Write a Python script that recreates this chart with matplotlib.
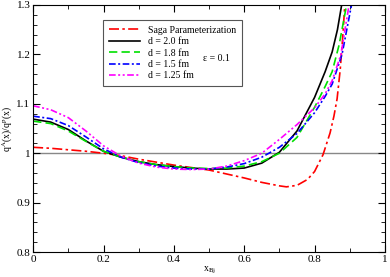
import numpy as np
import matplotlib
matplotlib.use('Agg')
import matplotlib.pyplot as plt
from matplotlib.ticker import MultipleLocator

plt.rcParams['font.family'] = ['Liberation Serif', 'DejaVu Serif']
plt.rcParams['mathtext.fontset'] = 'stix'

# Saga parameterization
x_saga = [0, 0.05, 0.1, 0.15, 0.2, 0.25, 0.3, 0.35, 0.4, 0.45, 0.5, 0.55, 0.6, 0.65,
          0.7, 0.72, 0.75, 0.78, 0.8, 0.824, 0.844, 0.855, 0.864, 0.873, 0.88, 0.886]
y_saga = [1.012, 1.010, 1.007, 1.004, 1.0, 0.995, 0.988, 0.982, 0.976, 0.971, 0.966, 0.958,
          0.950, 0.941, 0.934, 0.932, 0.935, 0.947, 0.963, 0.997, 1.041, 1.075, 1.11,
          1.17, 1.235, 1.30]

x_d = [0, 0.05, 0.1, 0.15, 0.2, 0.25, 0.3, 0.35, 0.4, 0.45, 0.5, 0.55, 0.6, 0.65, 0.7,
       0.75, 0.8, 0.83]
# d = 2.0 fm
y_20 = [1.069, 1.063, 1.048, 1.025, 1.004, 0.992, 0.983, 0.977, 0.973, 0.970, 0.968, 0.968,
        0.970, 0.980, 1.002, 1.045, 1.113, 1.165]
x_20_tail, y_20_tail = [0.85, 0.865, 0.877], [1.205, 1.25, 1.30]
# d = 1.8 fm
y_18 = [1.065, 1.060, 1.045, 1.024, 1.004, 0.992, 0.983, 0.977, 0.973, 0.970, 0.969, 0.970,
        0.974, 0.983, 1.0, 1.032, 1.093, 1.135]
x_18_tail, y_18_tail = [0.85, 0.87, 0.891], [1.165, 1.22, 1.30]
# d = 1.5 fm
y_15 = [1.075, 1.070, 1.056, 1.033, 1.009, 0.992, 0.981, 0.974, 0.970, 0.968, 0.968, 0.972,
        0.979, 0.992, 1.012, 1.04, 1.082, 1.115]
x_15_tail, y_15_tail = [0.85, 0.878, 0.905], [1.14, 1.2, 1.30]
# d = 1.25 fm
y_125 = [1.096, 1.088, 1.072, 1.045, 1.015, 0.994, 0.980, 0.972, 0.968, 0.967, 0.968, 0.974,
         0.985, 1.0, 1.028, 1.058, 1.092, 1.12]
x_125_tail, y_125_tail = [0.85, 0.875, 0.898], [1.147, 1.2, 1.30]

fig = plt.figure(figsize=(3.9, 2.77), dpi=100)
ax = fig.add_axes([0.085, 0.09, 0.902, 0.892])

ax.axhline(1.0, color='#888888', lw=1.0, zorder=1)
ax.plot(x_saga, y_saga, color='red', lw=1.2, dashes=(6, 2, 1.5, 2), label='Saga Parameterization')
ax.plot(x_d + x_20_tail, y_20 + y_20_tail, color='black', lw=1.2, label='d = 2.0 fm')
ax.plot(x_d + x_18_tail, y_18 + y_18_tail, color='#00e000', lw=1.2, dashes=(5, 2.5), label='d = 1.8 fm')
ax.plot(x_d + x_15_tail, y_15 + y_15_tail, color='blue', lw=1.2, dashes=(4, 1.5, 1.2, 1.5), label='d = 1.5 fm')
ax.plot(x_d + x_125_tail, y_125 + y_125_tail, color='magenta', lw=1.2,
        dashes=(4, 1.5, 1.2, 1.5, 1.2, 1.5), label='d = 1.25 fm')

ax.set_xlim(0, 1)
ax.set_ylim(0.8, 1.3)
ax.xaxis.set_minor_locator(MultipleLocator(0.1))
ax.yaxis.set_minor_locator(MultipleLocator(0.02))
ax.set_xticks([0, 0.2, 0.4, 0.6, 0.8, 1.0])
ax.set_xticklabels(['0', '0.2', '0.4', '0.6', '0.8', '1'])
ax.set_yticks([0.8, 0.9, 1.0, 1.1, 1.2, 1.3])
ax.set_yticklabels(['0.8', '0.9', '1', '1.1', '1.2', '1.3'])
ax.tick_params(which='both', direction='in', top=True, right=True, labelsize=8, pad=2)
ax.tick_params(which='major', length=5)
ax.tick_params(which='minor', length=3)

ax.set_xlabel(r'x$_{\mathrm{Bj}}$', fontsize=7, labelpad=1)
ax.set_ylabel(r'q$^{\mathrm{A}}$(x)/q$^{\mathrm{p}}$(x)', fontsize=7, labelpad=1)

leg = ax.legend(loc='upper left', bbox_to_anchor=(0.199, 0.94), fontsize=7, frameon=True,
                fancybox=False, edgecolor='#555555', framealpha=1, handlelength=3.2,
                borderaxespad=0, borderpad=0.6, labelspacing=0.25, handletextpad=0.8)
leg.get_frame().set_linewidth(0.8)
leg.set_zorder(5)
ax.text(0.483, 0.785, u'\u03b5 = 0.1', transform=ax.transAxes, fontsize=7,
        va='center', ha='left', zorder=10)

fig.savefig('out.png', dpi=100)
